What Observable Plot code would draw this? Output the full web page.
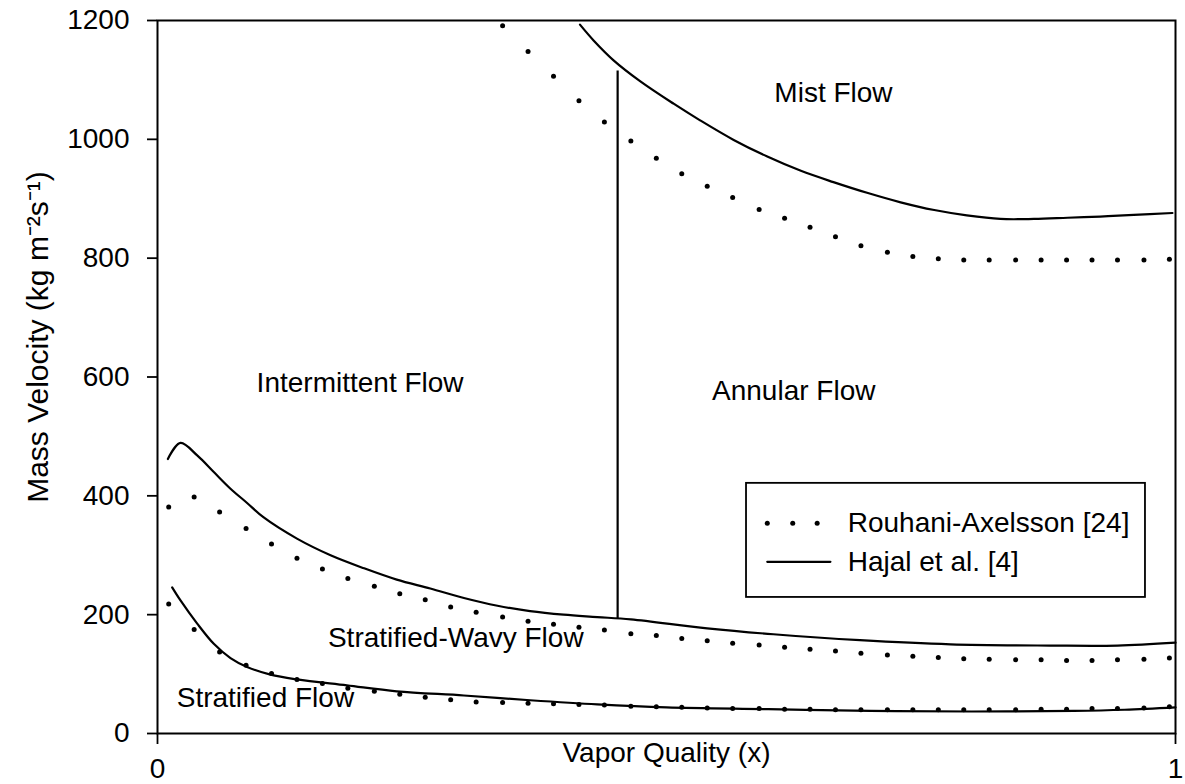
<!DOCTYPE html>
<html><head><meta charset="utf-8">
<script src="https://cdn.jsdelivr.net/npm/d3@7"></script>
<script src="https://cdn.jsdelivr.net/npm/@observablehq/plot@0.6"></script>
<style>
body{margin:0;background:#fff;}
#chart{width:1185px;height:784px;}
</style>
</head><body><div id="chart"></div>
<script>
// ---- data ----
const yTicks = [0, 200, 400, 600, 800, 1000, 1200];
const xTicks = [0, 1];
const xTitle = "Vapor Quality (x)";
const yTitle = "Mass Velocity (kg m\u207B\u00B2s\u207B\u00B9)";

// Rouhani-Axelsson (dotted) sample positions
const dotX = [0.011,0.036,0.061,0.087,0.112,0.137,0.162,0.187,0.213,0.238,0.263,0.288,0.313,0.339,0.364,0.389,0.414,0.439,0.465,0.490,0.515,0.540,0.565,0.591,0.616,0.641,0.666,0.691,0.717,0.742,0.767,0.792,0.817,0.843,0.868,0.893,0.918,0.943,0.969,0.994];
const rouhaniStratified = [218,175,137,115,101,91,84,76,71,66,61,57,53,52,51,50,49,48,46,45,44,43,42,42,41,41,40,40,40,40,40,40,40,40,41,41,42,42,43,45];
const rouhaniWavy = [381,398,373,345,319,295,277,261,248,235,225,213,204,196,189,184,179,174,168,165,160,156,152,149,145,142,139,135,132,130,128,126,125,124,124,123,123,124,125,127];
const rouhaniMistX = [0.339,0.364,0.389,0.414,0.439,0.465,0.490,0.515,0.540,0.565,0.591,0.616,0.641,0.666,0.691,0.717,0.742,0.767,0.792,0.817,0.843,0.868,0.893,0.918,0.943,0.969,0.994];
const rouhaniMist = [1191,1148,1106,1065,1029,997,968,942,921,902,882,867,852,836,821,810,803,799,797,797,797,797,797,797,797,797,798];

// Hajal et al. (solid)
const hajalStratX = [0.0144,0.0226,0.039,0.0553,0.0717,0.088,0.111,0.137,0.186,0.235,0.301,0.366,0.432,0.5,0.6,0.7,0.8,0.9,0.95,1.0];
const hajalStrat = [246,224,185,151,127,112,99,91,81,71,64,56,49,44,41,38,37,38,40,44];
const hajalWavyX = [0.0102,0.0226,0.039,0.0553,0.0717,0.088,0.104,0.137,0.170,0.203,0.235,0.268,0.301,0.334,0.366,0.399,0.432,0.465,0.54,0.605,0.69,0.779,0.877,0.943,1.0];
const hajalWavy = [462,489,468,440,412,388,364,328,300,278,259,244,228,215,206,200,196,192,177,167,157,150,148,148,153];
const hajalMistX = [0.415,0.4286,0.448,0.474,0.507,0.533,0.566,0.599,0.632,0.664,0.697,0.730,0.763,0.795,0.828,0.861,0.894,0.926,0.959,0.997];
const hajalMist = [1193,1166,1133,1098,1060,1032,999,971,947,928,910,894,881,872,866,866,868,870,873,876];
// Intermittent / annular transition
const transitionX = [0.452];
const transitionG = [192, 1115];

// region labels (data coordinates)
const regionNames = ["Mist Flow", "Intermittent Flow", "Annular Flow", "Stratified-Wavy Flow", "Stratified Flow"];
const regionX = [0.664, 0.199, 0.625, 0.293, 0.106];
const regionG = [1078, 590, 576, 161, 59];

// legend
const legendNames = ["Rouhani-Axelsson [24]", "Hajal et al. [4]"];

// ---- build ----
const zip = (xs, ys) => xs.map((x, i) => ({x, y: ys[i]}));
const font = "'Liberation Sans', Arial, Helvetica, sans-serif";
const FS = 28;
const SW = 2.2;

const legendBox = [{x1: 0.5786, x2: 0.9705, y1: 229, y2: 421}];
const legendDots = [0.599, 0.624, 0.648].map(x => ({x, y: 354}));
const legendLine = [{x: 0.599, y: 289}, {x: 0.661, y: 289}];
const legendText = [{x: 0.678, y: 354, t: legendNames[0]}, {x: 0.678, y: 289, t: legendNames[1]}];

const plot = Plot.plot({
  width: 1185, height: 784,
  marginLeft: 157, marginRight: 10, marginTop: 20, marginBottom: 51,
  style: {fontFamily: font, fontSize: FS + "px", color: "black", background: "white", overflow: "visible"},
  x: {domain: [0, 1]},
  y: {domain: [0, 1200]},
  marks: [
    Plot.axisY({ticks: yTicks, tickSize: 10, tickPadding: 18, fontSize: FS, label: null, tickFormat: d => String(d), strokeWidth: 1.8}),
    Plot.axisX({ticks: xTicks, tickSize: 11, tickPadding: 14, fontSize: FS, label: null, tickFormat: d => String(d), strokeWidth: 1.8}),
    Plot.frame({stroke: "black", strokeWidth: 2}),
    Plot.text([xTitle], {frameAnchor: "bottom", lineAnchor: "middle", textAnchor: "middle", dy: 20, fontSize: FS, text: d => d}),
    Plot.text([yTitle], {frameAnchor: "left", lineAnchor: "middle", textAnchor: "middle", dx: -119, dy: -40, rotate: -90, fontSize: 30, text: d => d}),
    // Hajal curves
    Plot.line(zip(hajalStratX, hajalStrat), {x: "x", y: "y", stroke: "black", strokeWidth: SW, curve: "catmull-rom"}),
    Plot.line(zip(hajalWavyX, hajalWavy), {x: "x", y: "y", stroke: "black", strokeWidth: SW, curve: "catmull-rom"}),
    Plot.line(zip(hajalMistX, hajalMist), {x: "x", y: "y", stroke: "black", strokeWidth: SW, curve: "catmull-rom"}),
    Plot.ruleX(transitionX, {y1: transitionG[0], y2: transitionG[1], stroke: "black", strokeWidth: SW}),
    // Rouhani dotted
    Plot.dot(zip(dotX, rouhaniStratified), {x: "x", y: "y", r: 2.5, fill: "black", stroke: "none"}),
    Plot.dot(zip(dotX, rouhaniWavy), {x: "x", y: "y", r: 2.5, fill: "black", stroke: "none"}),
    Plot.dot(zip(rouhaniMistX, rouhaniMist), {x: "x", y: "y", r: 2.5, fill: "black", stroke: "none"}),
    // region labels
    Plot.text(regionNames, {x: (d, i) => regionX[i], y: (d, i) => regionG[i], text: d => d, fontSize: FS}),
    // legend
    Plot.rect(legendBox, {x1: "x1", x2: "x2", y1: "y1", y2: "y2", fill: "white", stroke: "black", strokeWidth: 1.8}),
    Plot.dot(legendDots, {x: "x", y: "y", r: 2.5, fill: "black", stroke: "none"}),
    Plot.line(legendLine, {x: "x", y: "y", stroke: "black", strokeWidth: SW}),
    Plot.text(legendText, {x: "x", y: "y", text: "t", textAnchor: "start", fontSize: FS})
  ]
});
document.getElementById("chart").appendChild(plot);
</script>
</body></html>
